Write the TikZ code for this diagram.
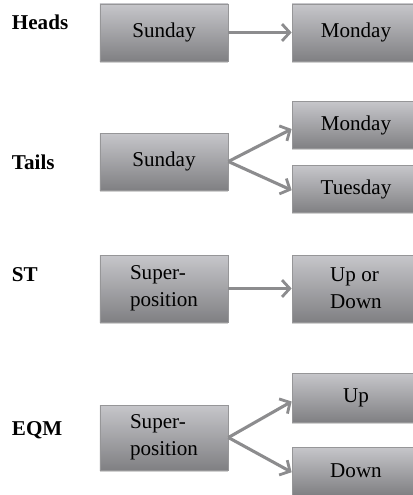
\documentclass[tikz,border=0pt]{standalone}
\usepackage{fontspec}
\setmainfont{Liberation Serif}
\usetikzlibrary{arrows.meta,shadows}
\definecolor{boxtop}{RGB}{198,198,202}
\definecolor{boxbot}{RGB}{128,128,131}
\definecolor{boxline}{RGB}{150,150,152}
\definecolor{arrgray}{RGB}{140,140,142}
\tikzset{
  state/.style={rectangle,draw=boxline,line width=0.5pt,top color=boxtop,bottom color=boxbot,
    minimum width=32mm,inner sep=0pt,font=\fontsize{15}{19}\selectfont,
    drop shadow={shadow xshift=0pt,shadow yshift=-1.2pt,fill=black!18,opacity=1}},
  case/.style={anchor=west,font=\fontsize{15}{18}\selectfont\bfseries},
  arr/.style={draw=arrgray,line width=2.2pt,-{Straight Barb[length=5.5pt,width=12pt,line width=2pt]}}
}
\begin{document}
\begin{tikzpicture}[x=0.25mm,y=-0.25mm]
		\useasboundingbox (0,0) rectangle (413,495);
		\clip (0,0) rectangle (413,495);
		% heads
		\node[case] (heads) at (7,22) {Heads};
		\node[state,minimum height=14.25mm] (hsun) at (164,32.5) {Sunday};
		\node[state,minimum height=14.25mm] (hmon) at (356,32.5) {Monday};
		\draw[arr] (hsun.east) -- (hmon.west);
		% tails
		\node[case] (tails) at (7,162) {Tails};
		\node[state,minimum height=14.25mm] (tsun) at (164,161.5) {Sunday};
		\node[state,minimum height=11.75mm] (tmon) at (356,125) {Monday};
		\node[state,minimum height=11.75mm] (ttue) at (356,189) {Tuesday};
		\draw[arr] (tsun.east) -- ([yshift=-1mm]tmon.west);
		\draw[arr] (tsun.east) -- ([yshift=-0.3mm]ttue.west);
		% st
		\node[case] (st) at (7,275) {ST};
		\node[state,minimum height=16.75mm,align=left] (ssup) at (164,288.5) {Super-\\position};
		\node[state,minimum height=16.75mm,align=left] (sud) at (356,288.5) {Up or\\Down};
		\draw[arr] (ssup.east) -- (sud.west);
		% eqm
		\node[case] (eqm) at (7,430) {EQM};
		\node[state,minimum height=16.25mm,align=left] (esup) at (164,437.5) {Super-\\position};
		\node[state,minimum height=12.25mm] (eup) at (356,397.5) {Up};
		\node[state,minimum height=12mm] (edown) at (356,471) {Down};
		\draw[arr] (esup.east) -- ([yshift=-1mm]eup.west);
		\draw[arr] (esup.east) -- ([yshift=-0.3mm]edown.west);
\end{tikzpicture}
\end{document}
